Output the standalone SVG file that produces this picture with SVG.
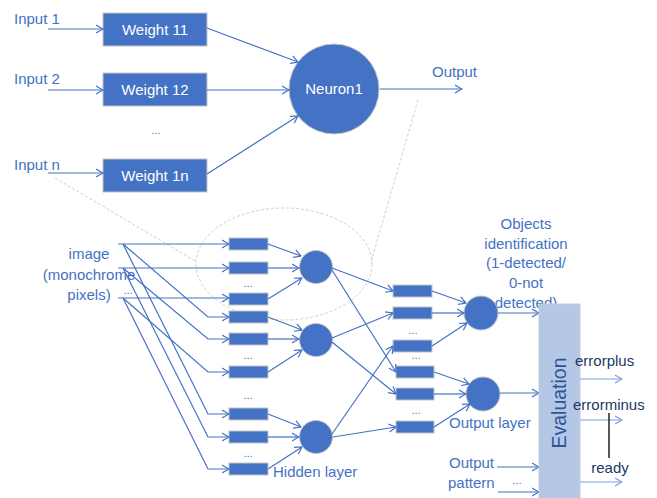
<svg xmlns="http://www.w3.org/2000/svg" width="657" height="498" viewBox="0 0 657 498">
<style>
.ln{stroke:#4472C4;stroke-width:1.2;fill:none}
.a{marker-end:url(#ah)}
.lt{stroke:#7C9DD9;stroke-width:1.2;fill:none;marker-end:url(#ah2)}
.box{fill:#4472C4;stroke:#C4C4C4;stroke-width:1}
.nd{fill:#4472C4;stroke:#C4C4C4;stroke-width:1}
.t{font-family:"Liberation Sans",Arial,sans-serif;font-size:15px;fill:#4472C4}
.w{fill:#FFFFFF;text-anchor:middle}
.m{text-anchor:middle}
.dk{fill:#203864}
.dots{font-family:"Liberation Sans",Arial,sans-serif;font-size:11px;fill:#4472C4;text-anchor:middle}
.fa{stroke:#D0D0D0;stroke-width:1;fill:none;stroke-dasharray:3 2}
</style>
<defs>
<marker id="ah" viewBox="0 0 8 10" refX="7.5" refY="5" markerWidth="8" markerHeight="10" orient="auto" markerUnits="userSpaceOnUse"><path d="M0.5,1 L7.5,5 L0.5,9" fill="none" stroke="#4472C4" stroke-width="1.2"/></marker>
<marker id="ah2" viewBox="0 0 8 10" refX="7.5" refY="5" markerWidth="8" markerHeight="10" orient="auto" markerUnits="userSpaceOnUse"><path d="M0.5,1 L7.5,5 L0.5,9" fill="none" stroke="#7C9DD9" stroke-width="1.2"/></marker>
</defs>

<!-- faint magnification guides -->
<g id="guides">
<line class="fa" x1="55" y1="178" x2="197" y2="262"/>
<line class="fa" x1="418" y1="100" x2="371" y2="262"/>
<ellipse class="fa" cx="284" cy="264" rx="88" ry="56"/>
</g>

<!-- top labels -->
<g id="input1"><text class="t" x="14" y="24">Input 1</text></g>
<g id="input2"><text class="t" x="14" y="84">Input 2</text></g>
<g id="inputn"><text class="t" x="14" y="170">Input n</text></g>
<g id="topdots"><text class="dots" x="156" y="134">...</text></g>
<g id="output"><text class="t" x="432" y="77">Output</text></g>

<g id="weight11"><rect class="box" x="103" y="13" width="104" height="33"/><text class="t w" x="155" y="35">Weight 11</text></g>
<g id="weight12"><rect class="box" x="103" y="73" width="104" height="33"/><text class="t w" x="155" y="95">Weight 12</text></g>
<g id="weight1n"><rect class="box" x="103" y="159" width="104" height="33"/><text class="t w" x="155" y="181">Weight 1n</text></g>
<g id="neuron1"><circle class="nd" cx="334" cy="89" r="45"/><text class="t w" x="334" y="94">Neuron1</text></g>

<!-- lower labels -->
<g id="image"><text class="t m" x="89" y="259">image</text><text class="t m" x="89" y="280">(monochrome</text><text class="t m" x="89" y="300">pixels)</text><text class="dots" x="128" y="294">...</text></g>
<g id="hiddenlabel"><text class="t" x="273" y="477">Hidden layer</text></g>
<g id="outputlabel"><text class="t" x="449" y="428">Output layer</text></g>
<g id="objects"><text class="t m" x="526" y="229">Objects</text><text class="t m" x="526" y="249">identification</text><text class="t m" x="526" y="268">(1-detected/</text><text class="t m" x="526" y="288">0-not</text><text class="t m" x="526" y="308">detected)</text></g>
<g id="outpattern"><text class="t" x="449" y="468">Output</text><text class="t" x="448" y="488">pattern</text><text class="dots" x="517" y="484">...</text></g>

<!-- hidden input boxes -->
<g id="hb1"><rect class="box" x="229" y="238" width="39" height="12"/></g>
<g id="hb2"><rect class="box" x="229" y="262" width="39" height="12"/></g>
<g id="hb3"><rect class="box" x="229" y="293" width="39" height="12"/></g>
<g id="hb4"><rect class="box" x="229" y="311" width="39" height="12"/></g>
<g id="hb5"><rect class="box" x="229" y="333" width="39" height="12"/></g>
<g id="hb6"><rect class="box" x="229" y="366" width="39" height="12"/></g>
<g id="hb7"><rect class="box" x="229" y="408" width="39" height="12"/></g>
<g id="hb8"><rect class="box" x="229" y="431" width="39" height="12"/></g>
<g id="hb9"><rect class="box" x="229" y="463" width="39" height="12"/></g>
<g id="hdots"><text class="dots" x="248" y="287">...</text><text class="dots" x="248" y="359">...</text><text class="dots" x="248" y="399">...</text><text class="dots" x="248" y="457">...</text></g>

<g id="hn1"><circle class="nd" cx="316" cy="267" r="16.5"/></g>
<g id="hn2"><circle class="nd" cx="316" cy="340" r="16.5"/></g>
<g id="hn3"><circle class="nd" cx="316" cy="437" r="16.5"/></g>

<!-- output boxes -->
<g id="ob1"><rect class="box" x="393" y="285" width="39" height="12"/></g>
<g id="ob2"><rect class="box" x="393" y="307" width="39" height="12"/></g>
<g id="ob3"><rect class="box" x="393" y="340" width="39" height="12"/></g>
<g id="ob4"><rect class="box" x="396" y="366" width="38" height="12"/></g>
<g id="ob5"><rect class="box" x="396" y="388" width="38" height="12"/></g>
<g id="ob6"><rect class="box" x="396" y="421" width="38" height="12"/></g>
<g id="odots"><text class="dots" x="413" y="334">...</text><text class="dots" x="416" y="359">...</text><text class="dots" x="416" y="414">...</text></g>

<g id="on1"><circle class="nd" cx="481" cy="313" r="17"/></g>
<g id="on2"><circle class="nd" cx="483" cy="394" r="17"/></g>

<!-- connectors -->
<g id="connectors">
<line class="ln a" x1="48" y1="29" x2="103" y2="29"/>
<line class="ln a" x1="48" y1="90" x2="103" y2="90"/>
<line class="ln a" x1="48" y1="173" x2="103" y2="173"/>
<line class="ln a" x1="207" y1="28" x2="298" y2="62"/>
<line class="ln a" x1="207" y1="90" x2="289" y2="90"/>
<line class="ln a" x1="207" y1="174" x2="298" y2="116"/>
<line class="ln a" x1="380" y1="89" x2="462" y2="89"/>

<line class="ln a" x1="118" y1="244" x2="229" y2="244"/>
<polyline class="ln a" points="123,244 208,317 229,317"/>
<polyline class="ln a" points="123,244 208,414 229,414"/>
<line class="ln a" x1="118" y1="268" x2="229" y2="268"/>
<polyline class="ln a" points="123,268 208,339 229,339"/>
<polyline class="ln a" points="123,268 208,437 229,437"/>
<line class="ln a" x1="118" y1="298" x2="229" y2="298"/>
<polyline class="ln a" points="123,298 208,372 229,372"/>
<polyline class="ln a" points="123,298 208,469 229,469"/>

<line class="ln a" x1="268" y1="244" x2="301" y2="256"/>
<line class="ln a" x1="268" y1="268" x2="299" y2="268"/>
<line class="ln a" x1="268" y1="299" x2="302" y2="278"/>
<line class="ln a" x1="268" y1="317" x2="302" y2="330"/>
<line class="ln a" x1="268" y1="339" x2="299" y2="339"/>
<line class="ln a" x1="268" y1="372" x2="302" y2="350"/>
<line class="ln a" x1="268" y1="414" x2="301" y2="427"/>
<line class="ln a" x1="268" y1="437" x2="299" y2="437"/>
<line class="ln a" x1="268" y1="469" x2="302" y2="447"/>

<line class="ln a" x1="332" y1="268" x2="393" y2="291"/>
<line class="ln a" x1="332" y1="270" x2="396" y2="372"/>
<line class="ln a" x1="332" y1="338" x2="393" y2="313"/>
<line class="ln a" x1="332" y1="342" x2="396" y2="394"/>
<line class="ln a" x1="332" y1="434" x2="393" y2="346"/>
<line class="ln a" x1="333" y1="437" x2="396" y2="427"/>

<line class="ln a" x1="432" y1="291" x2="466" y2="303"/>
<line class="ln a" x1="432" y1="313" x2="464" y2="313"/>
<line class="ln a" x1="432" y1="346" x2="467" y2="323"/>
<line class="ln a" x1="434" y1="372" x2="469" y2="384"/>
<line class="ln a" x1="434" y1="394" x2="466" y2="394"/>
<line class="ln a" x1="434" y1="427" x2="470" y2="404"/>

<line class="ln a" x1="498" y1="313" x2="539" y2="313"/>
<line class="ln a" x1="500" y1="393" x2="539" y2="393"/>
<line class="ln a" x1="497" y1="467" x2="539" y2="467"/>
<line class="ln a" x1="498" y1="492" x2="539" y2="492"/>

<line class="lt" x1="580" y1="379" x2="622" y2="379"/>
<line class="lt" x1="580" y1="420" x2="622" y2="420"/>
<line class="lt" x1="580" y1="482" x2="622" y2="482"/>
<line x1="609" y1="413" x2="609" y2="458" stroke="#000000" stroke-width="1.3"/>
</g>

<g id="evaluation"><rect x="539" y="304" width="41" height="200" fill="#B4C7E7" stroke="#C9C9C9" stroke-width="1"/><text transform="translate(566,403) rotate(-90)" text-anchor="middle" font-family="'Liberation Sans',Arial,sans-serif" font-size="19.5" fill="#2F5597">Evaluation</text></g>

<g id="errorplus"><text class="t dk" x="575" y="366">errorplus</text></g>
<g id="errorminus"><text class="t dk" x="573" y="410">errorminus</text></g>
<g id="ready"><text class="t dk m" x="610" y="473">ready</text></g>
</svg>
